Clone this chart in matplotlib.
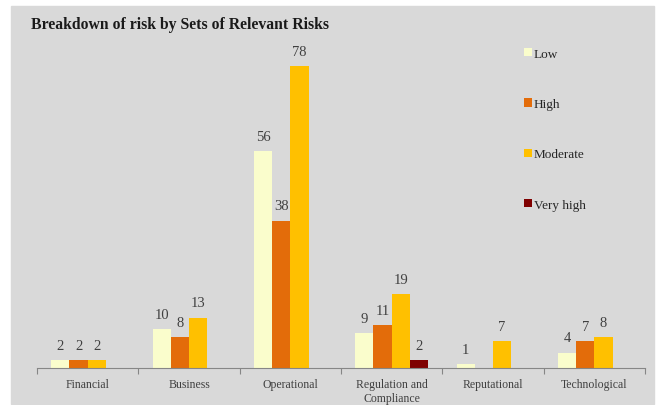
import matplotlib.pyplot as plt
from matplotlib.patches import Rectangle
import numpy as np

plt.rcParams['font.family'] = ['Liberation Serif', 'DejaVu Serif']

categories = ['Financial', 'Business', 'Operational', 'Regulation and\nCompliance',
              'Reputational', 'Technological']
series = ['Low', 'High', 'Moderate', 'Very high']
low = [2, 10, 56, 9, 1, 4]
high = [2, 8, 38, 11, None, 7]
moderate = [2, 13, 78, 19, 7, 8]
very_high = [None, None, None, 2, None, None]
colors = ['#fafdcc', '#e36c0a', '#ffc000', '#7f0000']

fig = plt.figure(figsize=(6.59, 4.06), dpi=100)
fig.patches.append(Rectangle((11 / 659, 1 / 406), 643 / 659, 398 / 406,
                             transform=fig.transFigure, color='#d9d9d9', zorder=-5))

ax = fig.add_axes([37 / 659, 37 / 406, 608 / 659, 348.6 / 406])
ax.set_facecolor('none')
ax.set_zorder(2)

width = 0.18
x = np.arange(len(categories)) + 0.5
for i, (name, vals, col) in enumerate(zip(series, [low, high, moderate, very_high], colors)):
    xs = [xi + (i - 1.5) * width for xi, v in zip(x, vals) if v is not None]
    vs = [v for v in vals if v is not None]
    bars = ax.bar(xs, vs, width, color=col, label=name, zorder=2)
    for b, v in zip(bars, vs):
        ax.annotate(str(v), (b.get_x() + b.get_width() / 2, v), xytext=(0, 6),
                    textcoords='offset points', ha='center', va='bottom',
                    fontsize=10.5, color='#404040')

ax.set_xlim(0, len(categories))
ax.set_ylim(0, 90)
ax.set_yticks([])
for s in ['top', 'right', 'left']:
    ax.spines[s].set_visible(False)
ax.spines['bottom'].set_color('#868686')
ax.set_xticks(np.arange(len(categories) + 1))
ax.set_xticklabels([])
ax.tick_params(axis='x', which='major', length=4, color='#868686')
ax.set_xticks(x, minor=True)
ax.set_xticklabels(categories, minor=True, fontsize=8.5, color='#404040')
ax.tick_params(axis='x', which='minor', length=0, pad=7)

fig.text(31 / 659, 1 - 29 / 406, 'Breakdown of risk by Sets of Relevant Risks',
         fontsize=11.3, fontweight='bold', color='#1a1a1a', va='baseline')

leg = ax.legend(loc='upper left', bbox_to_anchor=(512 / 659, 1 - 37 / 406),
                bbox_transform=fig.transFigure, frameon=False, fontsize=9.5,
                handlelength=0.6, handleheight=0.6, handletextpad=0.15,
                labelspacing=2.9, labelcolor='#262626')

fig.savefig('out.png', dpi=100)
